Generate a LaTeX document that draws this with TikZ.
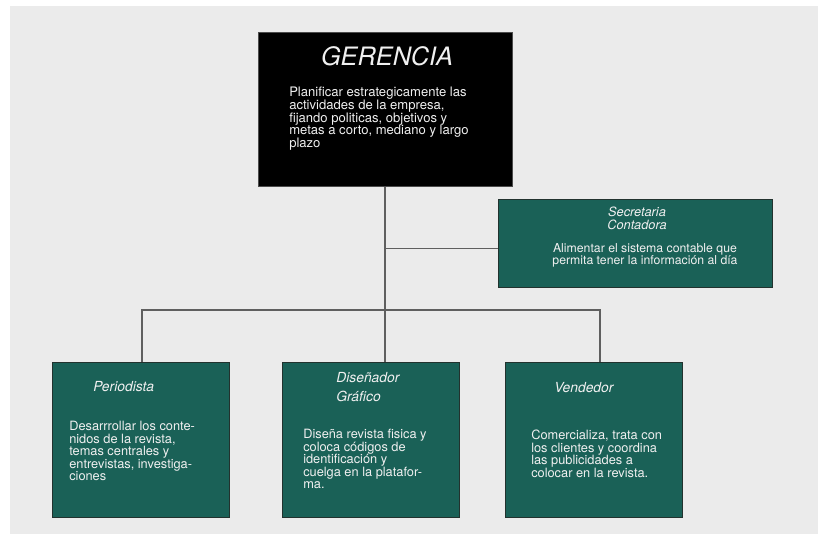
\documentclass[tikz,border=0pt]{standalone}
\usepackage{fontspec}
\setmainfont{TeX Gyre Heros}
\usepackage{tikz}
\usetikzlibrary{positioning}
\definecolor{fondo}{RGB}{235,235,235}
\definecolor{verde}{RGB}{26,97,87}
\definecolor{borde}{RGB}{34,50,46}
\definecolor{linea}{RGB}{95,95,95}
\tikzset{x=0.75pt, y=-0.75pt,
  jefe/.style={draw=gray!60!black, fill=black, line width=0.8pt, anchor=north west, inner sep=0,
    minimum width=190.5pt, minimum height=115.5pt},
  cargo/.style={draw=borde, fill=verde, line width=1pt, anchor=north west, inner sep=0,
    minimum width=132.75pt, minimum height=116.25pt},
  titulo/.style={text=white!94!black, font=\itshape\fontsize{10.4}{8.3}\selectfont, align=left, inner sep=0},
  tarea/.style={text=white!94!black, font=\fontsize{9.6}{9.4}\selectfont, align=left, inner sep=0, anchor=north west},
  enlace/.style={draw=linea, line width=1pt},
}
\begin{document}
\begin{tikzpicture}
	\fill[white] (0,0) rectangle (818,534);
	\fill[fondo] (10,6) rectangle (818,534);
	\useasboundingbox (0,0) rectangle (818,534);
	% cajas
	\node[jefe] (ger) at (258,32) {};
	\node[cargo, minimum width=205.5pt, minimum height=66pt] (sec) at (498,199) {};
	\node[cargo] (per) at (52,362) {};
	\node[cargo] (dis) at (282,362) {};
	\node[cargo] (ven) at (505,362) {};
	% textos
	\node[titulo, font=\itshape\fontsize{19}{20}\selectfont, anchor=north] (gertit) at (387,46) {GERENCIA};
	\node[tarea, font=\fontsize{9.8}{9.5}\selectfont] (gertxt) at (289,87) {Planificar estrategicamente las\\actividades de la empresa,\\fijando politicas, objetivos y\\metas a corto, mediano y largo\\plazo};
	\node[titulo, font=\itshape\fontsize{9.6}{9.6}\selectfont, align=center, anchor=north] (sectit) at (637,207) {Secretaria\\Contadora};
	\node[tarea, font=\fontsize{9.2}{9.4}\selectfont, align=center, anchor=north] (sectxt) at (645,243) {Alimentar el sistema contable que\\permita tener la información al día};
	\node[titulo, anchor=north west] (pertit) at (93,381) {Periodista};
	\node[tarea] (pertxt) at (69,421) {Desarrrollar los conte-\\nidos de la revista,\\temas centrales y\\entrevistas, investiga-\\ciones};
	\node[titulo, anchor=north west] (distit) at (336,372) {Diseñador\\[6pt]Gráfico};
	\node[tarea] (distxt) at (303,429) {Diseña revista fisica y\\coloca códigos de\\identificación y\\cuelga en la platafor-\\ma.};
	\node[titulo, anchor=north west] (ventit) at (554,382) {Vendedor};
	\node[tarea] (ventxt) at (531,430) {Comercializa, trata con\\los clientes y coordina\\las publicidades a\\colocar en la revista.};
	% conectores
	\coordinate (barra) at (385,310);
	\coordinate (izq) at (142,310);
	\coordinate (der) at (600,310);
	\draw[enlace] (ger.south -| barra) -- (barra |- dis.north);
	\draw[enlace] (barra |- sec.west) ++(0,5) -- ([yshift=-3.75pt]sec.west);
	\draw[enlace] (izq |- per.north) -- (izq) -- (der) -- (der |- ven.north);
\end{tikzpicture}
\end{document}
